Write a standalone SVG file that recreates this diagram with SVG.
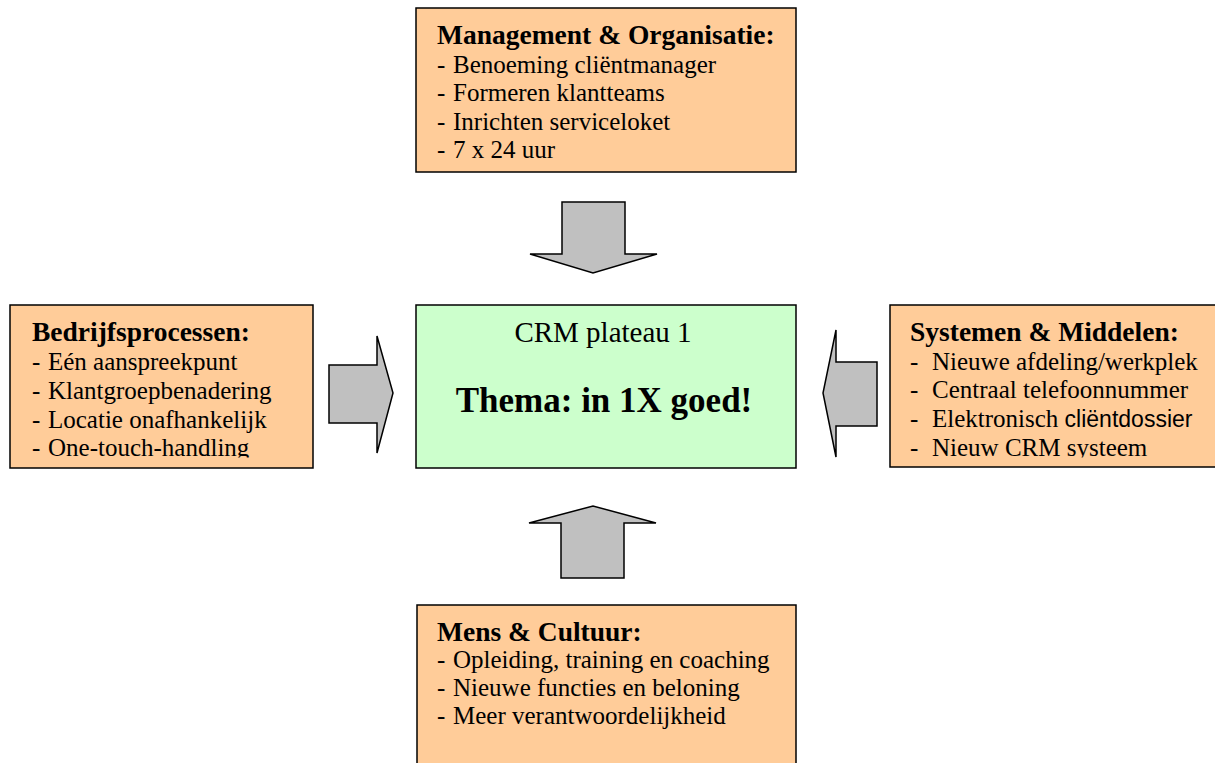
<svg xmlns="http://www.w3.org/2000/svg" width="1215" height="763" viewBox="0 0 1215 763">
<style>
.box{fill:#FFCC99;stroke:#000;stroke-width:1.5}
.ctr{fill:#CCFFCC;stroke:#000;stroke-width:1.5}
.arr{fill:#C0C0C0;stroke:#000;stroke-width:1.5;stroke-linejoin:miter}
text{font-family:"Liberation Serif","Times New Roman",serif;font-size:25px;fill:#000}
.t{font-weight:bold;font-size:27.5px}
.sub{font-size:29px}
.big{font-weight:bold;font-size:35px}
.sans{font-family:"Liberation Sans",Arial,sans-serif;font-size:23px}
</style>
<defs>
<clipPath id="clipL"><rect x="0" y="300" width="420" height="157.5"/></clipPath>
<clipPath id="clipR"><rect x="880" y="300" width="340" height="157.5"/></clipPath>
</defs>
<rect width="1215" height="763" fill="#fff"/>
<g id="connectors">
<polygon class="arr" points="562,202 625,202 625,254 657,254 593,273 530,254 562,254"/>
<polygon class="arr" points="561,578 624,578 624,523 656,523 593,506 529,523 561,523"/>
<polygon class="arr" points="329,365 377,365 377,336 393,393 377,453 377,423 329,423"/>
<polygon class="arr" points="877,362 836,362 836,330 823,393 836,457 836,426 877,426"/>
</g>
<g id="top">
<rect class="box" x="416" y="8" width="380" height="164"/>
<text class="t" x="437" y="44">Management &amp; Organisatie:</text>
<text y="73"><tspan x="437">-</tspan><tspan x="453">Benoeming cliëntmanager</tspan></text>
<text y="101"><tspan x="437">-</tspan><tspan x="453">Formeren klantteams</tspan></text>
<text y="130"><tspan x="437">-</tspan><tspan x="453">Inrichten serviceloket</tspan></text>
<text y="158"><tspan x="437">-</tspan><tspan x="453">7 x 24 uur</tspan></text>
</g>
<g id="left">
<rect class="box" x="10" y="305" width="303" height="163"/>
<g clip-path="url(#clipL)">
<text class="t" x="32" y="341">Bedrijfsprocessen:</text>
<text y="370"><tspan x="32">-</tspan><tspan x="48">Eén aanspreekpunt</tspan></text>
<text y="399"><tspan x="32">-</tspan><tspan x="48">Klantgroepbenadering</tspan></text>
<text y="428"><tspan x="32">-</tspan><tspan x="48">Locatie onafhankelijk</tspan></text>
<text y="456"><tspan x="32">-</tspan><tspan x="48">One-touch-handling</tspan></text>
</g>
</g>
<g id="center">
<rect class="ctr" x="416" y="305" width="380" height="163"/>
<text class="sub" x="603" y="342" text-anchor="middle">CRM plateau 1</text>
<text class="big" x="604" y="412" text-anchor="middle">Thema: in 1X goed!</text>
</g>
<g id="right">
<rect class="box" x="890" y="305" width="330" height="162"/>
<g clip-path="url(#clipR)">
<text class="t" x="910" y="341">Systemen &amp; Middelen:</text>
<text y="370"><tspan x="910">-</tspan><tspan x="932">Nieuwe afdeling/werkplek</tspan></text>
<text y="398"><tspan x="910">-</tspan><tspan x="932">Centraal telefoonnummer</tspan></text>
<text y="427"><tspan x="910">-</tspan><tspan x="932">Elektronisch </tspan><tspan class="sans">cliëntdossier</tspan></text>
<text y="456"><tspan x="910">-</tspan><tspan x="932">Nieuw CRM systeem</tspan></text>
</g>
</g>
<g id="bottom">
<rect class="box" x="417" y="605" width="379" height="170"/>
<text class="t" x="437" y="641">Mens &amp; Cultuur:</text>
<text y="668"><tspan x="437">-</tspan><tspan x="453">Opleiding, training en coaching</tspan></text>
<text y="696"><tspan x="437">-</tspan><tspan x="453">Nieuwe functies en beloning</tspan></text>
<text y="724"><tspan x="437">-</tspan><tspan x="453">Meer verantwoordelijkheid</tspan></text>
</g>
</svg>
